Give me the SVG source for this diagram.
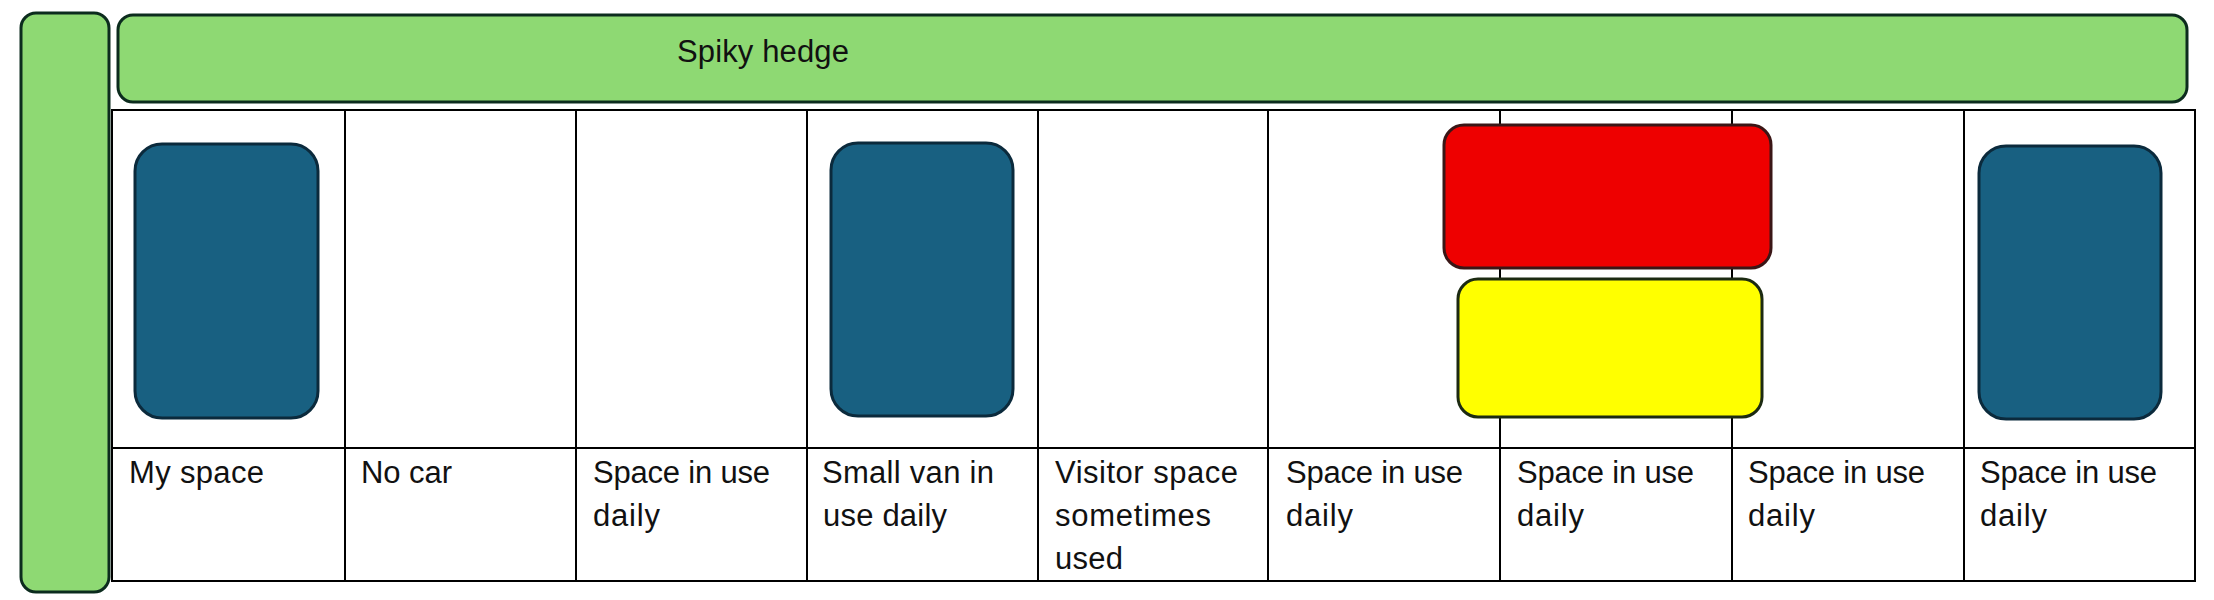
<svg xmlns="http://www.w3.org/2000/svg" width="2214" height="600" viewBox="0 0 2214 600">
<style>
.hedge{fill:#8ed973;stroke:#0c2c1e;stroke-width:3}
.car{fill:#186081;stroke:#0b2a3c;stroke-width:3}
.grid{stroke:#000;stroke-width:2;fill:none}
.lbl{font-family:"Liberation Sans",Arial,sans-serif;font-size:31px;fill:#111}
</style>
<rect width="2214" height="600" fill="#fff"/>
<g id="hedge-side"><rect class="hedge" x="21" y="13" width="88" height="579" rx="15"/></g>
<g id="hedge-top"><rect class="hedge" x="118" y="15" width="2069" height="87" rx="15"/>
<text class="lbl" x="677" y="62" textLength="172">Spiky hedge</text></g>
<g id="table">
<rect class="grid" x="112" y="110" width="2083" height="471"/>
<line class="grid" x1="112" y1="448" x2="2195" y2="448"/>
<path class="grid" d="M345 110V581M576 110V581M807 110V581M1038 110V581M1268 110V581M1500 110V581M1732 110V581M1964 110V581"/>
</g>
<g id="connectors"></g>
<g id="car-1"><rect class="car" x="135" y="144" width="183" height="274" rx="27"/></g>
<g id="car-4"><rect class="car" x="831" y="143" width="182" height="273" rx="27"/></g>
<g id="car-9"><rect class="car" x="1979" y="146" width="182" height="273" rx="27"/></g>
<g id="car-red"><rect x="1444" y="125" width="327" height="143" rx="20" fill="#ee0000" stroke="#3a1616" stroke-width="3"/></g>
<g id="car-yellow"><rect x="1458" y="279" width="304" height="138" rx="20" fill="#ffff00" stroke="#1c2a12" stroke-width="3"/></g>
<g id="label-1"><text class="lbl" x="129" y="483" textLength="135">My space</text></g>
<g id="label-2"><text class="lbl" x="361" y="483" textLength="91">No car</text></g>
<g id="label-3"><text class="lbl" x="593" y="483" textLength="177">Space in use</text><text class="lbl" x="593" y="526" textLength="67">daily</text></g>
<g id="label-4"><text class="lbl" x="822" y="483" textLength="172">Small van in</text><text class="lbl" x="823" y="526" textLength="124">use daily</text></g>
<g id="label-5"><text class="lbl" x="1055" y="483" textLength="183">Visitor space</text><text class="lbl" x="1055" y="526" textLength="156">sometimes</text><text class="lbl" x="1055" y="569" textLength="68">used</text></g>
<g id="label-6"><text class="lbl" x="1286" y="483" textLength="177">Space in use</text><text class="lbl" x="1286" y="526" textLength="67">daily</text></g>
<g id="label-7"><text class="lbl" x="1517" y="483" textLength="177">Space in use</text><text class="lbl" x="1517" y="526" textLength="67">daily</text></g>
<g id="label-8"><text class="lbl" x="1748" y="483" textLength="177">Space in use</text><text class="lbl" x="1748" y="526" textLength="67">daily</text></g>
<g id="label-9"><text class="lbl" x="1980" y="483" textLength="177">Space in use</text><text class="lbl" x="1980" y="526" textLength="67">daily</text></g>
</svg>
